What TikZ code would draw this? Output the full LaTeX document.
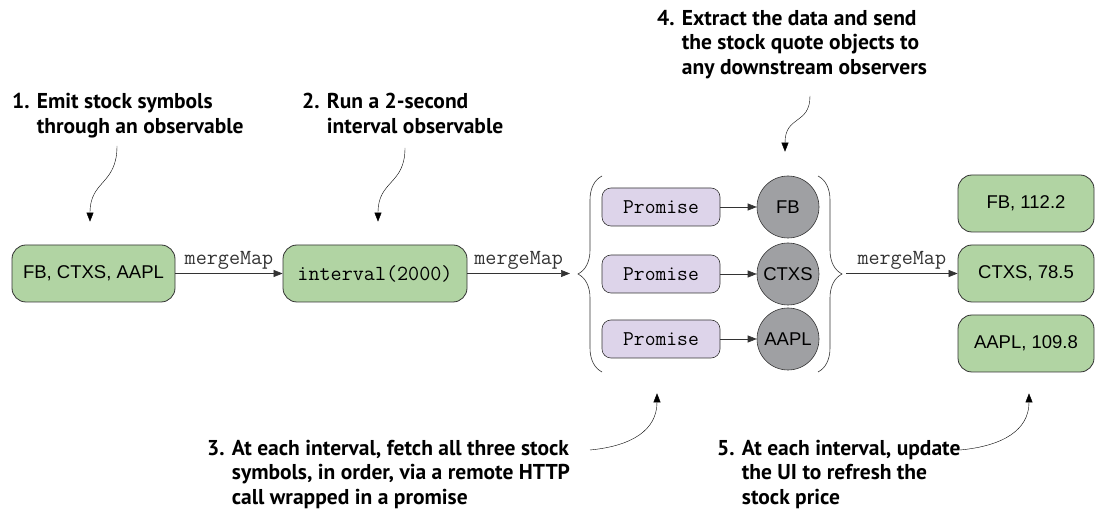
\documentclass[tikz,border=0pt]{standalone}
\usepackage{fontspec}
\setmainfont{Liberation Sans}
\newfontfamily\notefont{PT Sans}
\usepackage{tikz}
\usetikzlibrary{arrows.meta,positioning,decorations.pathreplacing}

\definecolor{boxgreen}{HTML}{B1D4A3}
\definecolor{boxpurple}{HTML}{DDD4EA}
\definecolor{quotegray}{HTML}{9FA0A3}
\definecolor{edgegray}{HTML}{333333}

\begin{document}
\begin{tikzpicture}[
    x=1pt, y=-1pt,
    >={Triangle[length=9pt,width=7pt]},
    % Styles
    stream/.style={rectangle, rounded corners=14pt, draw=edgegray, fill=boxgreen, thick, minimum height=57pt, font=\fontsize{18.5}{22}\selectfont},
    promise/.style={rectangle, rounded corners=9pt, draw=edgegray, fill=boxpurple, semithick, minimum width=118pt, minimum height=38pt, font=\ttfamily\fontsize{21}{22}\selectfont},
    quote/.style={circle, draw=edgegray, fill=quotegray, semithick, minimum size=62pt, inner sep=0pt, font=\fontsize{18.5}{22}\selectfont},
    note/.style={align=left, anchor=north west, inner sep=0pt, font=\notefont\bfseries\fontsize{21.5}{24.5}\selectfont},
    flow/.style={->, semithick, draw=edgegray},
    pointer/.style={->, thin, black},
    brace/.style={decorate, decoration={brace, amplitude=24pt}, semithick, draw=edgegray},
    opname/.style={font=\ttfamily\fontsize{21.5}{22}\selectfont, text=edgegray, above}
]
\useasboundingbox (0,0) rectangle (1096,510);

% --- Stream nodes ---
\node[stream, minimum width=163pt] (symbols) at (93.5,273.5) {FB, CTXS, AAPL};
\node[stream, minimum width=184pt] (interval) at (375,273.5) {\ttfamily\fontsize{21.5}{22}\selectfont interval(2000)};

% --- Promises and quotes ---
\node[promise] (p_fb) at (661,207) {Promise};
\node[promise] (p_ctxs) at (661,274) {Promise};
\node[promise] (p_aapl) at (661,339) {Promise};
\node[quote] (q_fb) at (788,207) {FB};
\node[quote] (q_ctxs) at (788,274) {CTXS};
\node[quote] (q_aapl) at (788,339) {AAPL};

% --- Braces ---
\draw[brace] (602,372) -- (602,176);
\draw[brace] (818,176) -- (818,372);
\coordinate (lbrace) at (574,273.5);
\coordinate (rbrace) at (846,273.5);

% --- Results ---
\node[stream, minimum width=136pt] (r_fb) at (1026,203.5) {FB, 112.2};
\node[stream, minimum width=136pt] (r_ctxs) at (1026,273.5) {CTXS, 78.5};
\node[stream, minimum width=136pt] (r_aapl) at (1026,343.5) {AAPL, 109.8};

% --- Connections ---
\draw[flow] (symbols) -- node[opname] {mergeMap} (interval);
\draw[flow] (interval) -- node[opname] {mergeMap} ([xshift=-4pt]lbrace);
\draw[flow] (rbrace) -- node[opname] {mergeMap} (r_ctxs);
\draw[flow] (p_fb) -- (q_fb);
\draw[flow] (p_ctxs) -- (q_ctxs);
\draw[flow] (p_aapl) -- (q_aapl);

% --- Notes ---
\node[note] (n1) at (12,93) {1. Emit stock symbols\\\phantom{1. }through an observable};
\node[note] (n2) at (302,93) {2. Run a 2-second\\\phantom{2. }interval observable};
\node[note] (n4) at (657,10) {4. Extract the data and send\\\phantom{4. }the stock quote objects to\\\phantom{4. }any downstream observers};
\node[note] (n3) at (207,440) {3. At each interval, fetch all three stock\\\phantom{3. }symbols, in order, via a remote HTTP\\\phantom{3. }call wrapped in a promise};
\node[note] (n5) at (717,440) {5. At each interval, update\\\phantom{5. }the UI to refresh the\\\phantom{5. }stock price};

\coordinate (t1) at (117,146);
\coordinate (t2) at (405,148);
\coordinate (t4) at (810,96);
\coordinate (t3) at (590,450);
\coordinate (t5) at (960,450);

\draw[pointer, shorten >=23pt] (t1) .. controls (117,185) and (90,180) .. ([xshift=-3.5pt]symbols.north);
\draw[pointer, shorten >=23pt] (t2) .. controls (405,185) and (378,180) .. ([xshift=3pt]interval.north);
\draw[pointer, shorten >=24pt] (t4) .. controls (810,125) and (785,115) .. ([xshift=-3pt]q_fb.north);
\draw[pointer, shorten >=35pt] (t3) .. controls (632,446) and (657,430) .. ([xshift=-4pt]p_aapl.south);
\draw[pointer, shorten >=21pt] (t5) .. controls (1003,446) and (1029,430) .. ([xshift=3pt]r_aapl.south);

\end{tikzpicture}
\end{document}
